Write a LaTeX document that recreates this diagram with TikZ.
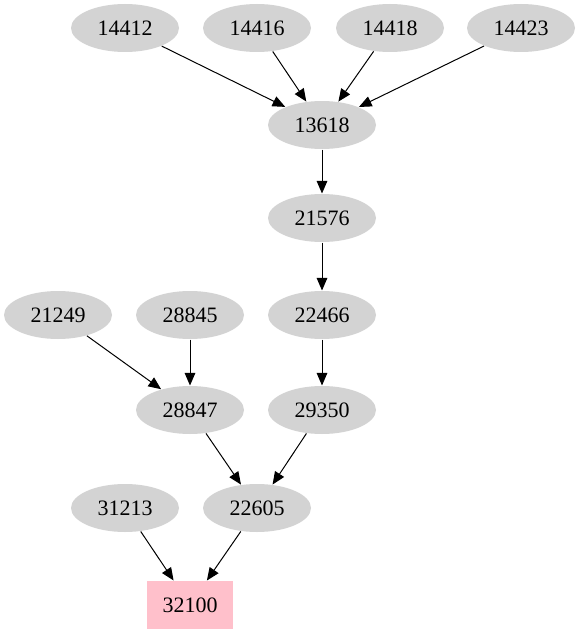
\documentclass[tikz,border=0pt]{standalone}
\usepackage{fontspec}
\setmainfont{Liberation Serif}
\usetikzlibrary{arrows.meta,shapes.geometric}
\definecolor{nodegray}{RGB}{211,211,211}
\definecolor{leafpink}{RGB}{255,192,203}

\begin{document}
\begin{tikzpicture}[x=0.75pt,y=-0.75pt,>={Triangle[length=9.5pt,width=8pt]},
  every node/.style={font=\fontsize{16.5}{20}\selectfont,inner sep=0pt},
  job/.style={ellipse,fill=nodegray,minimum width=81pt,minimum height=36pt},
  sink/.style={rectangle,fill=leafpink,minimum width=64pt,minimum height=36pt},
  every path/.style={line width=0.75pt}]
\useasboundingbox (0,0) rectangle (581,635);
\node[job] (a) at (125,28) {14412};
\node[job] (b) at (257,28) {14416};
\node[job] (c) at (390,28) {14418};
\node[job] (d) at (521,28) {14423};
\node[job] (e) at (322,125) {13618};
\node[job] (f) at (322,218) {21576};
\node[job] (g) at (58,315) {21249};
\node[job] (h) at (190,315) {28845};
\node[job] (i) at (322,315) {22466};
\node[job] (j) at (190,410) {28847};
\node[job] (k) at (322,410) {29350};
\node[job] (l) at (125,508) {31213};
\node[job] (m) at (257,508) {22605};
\node[sink] (n) at (190,605) {32100};
\draw[->] (a)--(e);
\draw[->] (b)--(e);
\draw[->] (c)--(e);
\draw[->] (d)--(e);
\draw[->] (e)--(f);
\draw[->] (f)--(i);
\draw[->] (g)--(j);
\draw[->] (h)--(j);
\draw[->] (i)--(k);
\draw[->] (j)--(m);
\draw[->] (k)--(m);
\draw[->] (l)--(n);
\draw[->] (m)--(n);
\end{tikzpicture}
\end{document}
